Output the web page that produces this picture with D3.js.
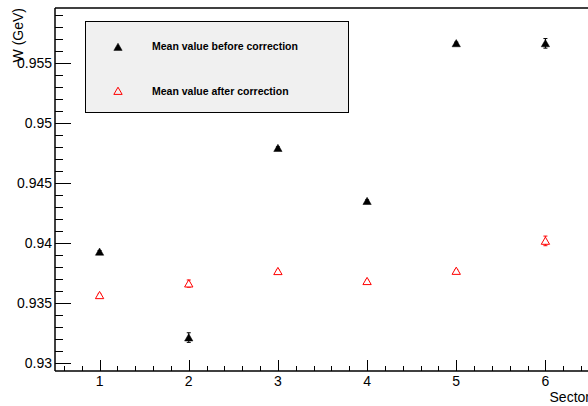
<!DOCTYPE html>
<html><head><meta charset="utf-8">
<script src="https://cdn.jsdelivr.net/npm/d3@7"></script>
<style>body{margin:0;background:#fff}svg{display:block}text{font-family:"Liberation Sans",Arial,sans-serif}</style>
</head><body><svg id="c" width="588" height="406"></svg>
<script>
const sectors = [1, 2, 3, 4, 5, 6];
const before = [0.93927, 0.93214, 0.94790, 0.94349, 0.95661, 0.95661];
const beforeErr = [0.0001, 0.0004, 0.0001, 0.0001, 0.0001, 0.0004];
const after = [0.93566, 0.93663, 0.93766, 0.93683, 0.93768, 0.94018];
const afterErr = [0.0001, 0.0003, 0.0001, 0.0001, 0.0001, 0.0004];
const yMajor = [0.93, 0.935, 0.94, 0.945, 0.95, 0.955];
const yTickLabels = ["0.93", "0.935", "0.94", "0.945", "0.95", "0.955"];
const xTickLabels = ["1", "2", "3", "4", "5", "6"];
const legendLabels = ["Mean value before correction", "Mean value after correction"];

const svg = d3.select("#c");
const L = 55, R = 590, T = 8, B = 371;
const x = d3.scaleLinear().domain([0.5, 6.5]).range([L, R]);
const y = d3.scaleLinear().domain([0.92936, 0.95955]).range([B, T]);

// frame top
svg.append("line").attr("x1", L).attr("x2", R).attr("y1", T).attr("y2", T).attr("stroke", "#000").attr("stroke-width", 1.5);

// Y axis
const yMinor = d3.range(0, 31).map(i => 0.93 + i * 0.001).filter(v => v <= 0.9595);
const ya = svg.append("g");
ya.append("line").attr("x1", L).attr("x2", L).attr("y1", T).attr("y2", B).attr("stroke", "#000").attr("stroke-width", 1.5);
ya.selectAll(".ymin").data(yMinor).join("line")
  .attr("x1", L).attr("x2", (d) => L + (yMajor.some(m => Math.abs(m - d) < 1e-9) ? 16 : 8))
  .attr("y1", d => Math.round(y(d)) + 0.5).attr("y2", d => Math.round(y(d)) + 0.5)
  .attr("stroke", "#000").attr("stroke-width", 1);
ya.selectAll(".ylab").data(yMajor).join("text")
  .attr("x", 52).attr("y", d => y(d) + 5).attr("text-anchor", "end")
  .attr("font-size", 14).attr("fill", "#000").text((d, i) => yTickLabels[i]);

// X axis
const xMinor = d3.range(0, 31).map(i => 0.6 + i * 0.2).filter(v => v < 6.5);
const xa = svg.append("g");
xa.append("line").attr("x1", L).attr("x2", R).attr("y1", B).attr("y2", B).attr("stroke", "#000").attr("stroke-width", 1.5);
xa.selectAll(".xmin").data(xMinor).join("line")
  .attr("x1", d => Math.round(x(d)) + 0.5).attr("x2", d => Math.round(x(d)) + 0.5)
  .attr("y1", B).attr("y2", d => B - (Math.abs(d - Math.round(d)) < 1e-6 ? 11 : 5))
  .attr("stroke", "#000").attr("stroke-width", 1);
xa.selectAll(".xlab").data(sectors).join("text")
  .attr("x", d => x(d)).attr("y", 386).attr("text-anchor", "middle")
  .attr("font-size", 14).attr("fill", "#000").text((d, i) => xTickLabels[i]);

// axis titles
svg.append("text").attr("x", 590).attr("y", 402).attr("text-anchor", "end").attr("font-size", 14).text("Sector");
svg.append("text").attr("transform", "translate(23,8) rotate(-90)").attr("text-anchor", "end").attr("font-size", 14).text("W (GeV)");

const tri = d3.symbol().type(d3.symbolTriangle).size(30);

function series(vals, errs, color, filled) {
  const g = svg.append("g");
  g.selectAll("line.err").data(vals).join("line")
    .attr("x1", (d, i) => x(sectors[i])).attr("x2", (d, i) => x(sectors[i]))
    .attr("y1", (d, i) => y(d - errs[i])).attr("y2", (d, i) => y(d + errs[i]))
    .attr("stroke", color).attr("stroke-width", 1);
  g.selectAll("line.cap").data(vals.flatMap((d, i) => [[i, d - errs[i]], [i, d + errs[i]]])).join("line")
    .attr("x1", d => x(sectors[d[0]]) - 2).attr("x2", d => x(sectors[d[0]]) + 2)
    .attr("y1", d => y(d[1])).attr("y2", d => y(d[1]))
    .attr("stroke", color).attr("stroke-width", 1);
  g.selectAll("path").data(vals).join("path")
    .attr("d", tri)
    .attr("transform", (d, i) => `translate(${x(sectors[i])},${y(d) + 1})`)
    .attr("fill", filled ? color : "#fff").attr("stroke", color).attr("stroke-width", filled ? 0.5 : 1);
}
series(before, beforeErr, "#000", true);
series(after, afterErr, "#ff0000", false);

// legend
const lg = svg.append("g");
lg.append("rect").attr("x", 85.5).attr("y", 21.5).attr("width", 263).attr("height", 91)
  .attr("fill", "#f0f0f0").attr("stroke", "#000").attr("stroke-width", 1);
lg.append("path").attr("d", tri).attr("transform", "translate(118,48)").attr("fill", "#000").attr("stroke", "#000").attr("stroke-width", 0.5);
lg.append("path").attr("d", tri).attr("transform", "translate(118,92)").attr("fill", "none").attr("stroke", "#ff0000").attr("stroke-width", 1);
lg.selectAll("text").data(legendLabels).join("text")
  .attr("x", 152).attr("y", (d, i) => i === 0 ? 50 : 95)
  .attr("font-size", 10.5).attr("font-weight", "bold").attr("fill", "#000").text(d => d);
</script></body></html>
